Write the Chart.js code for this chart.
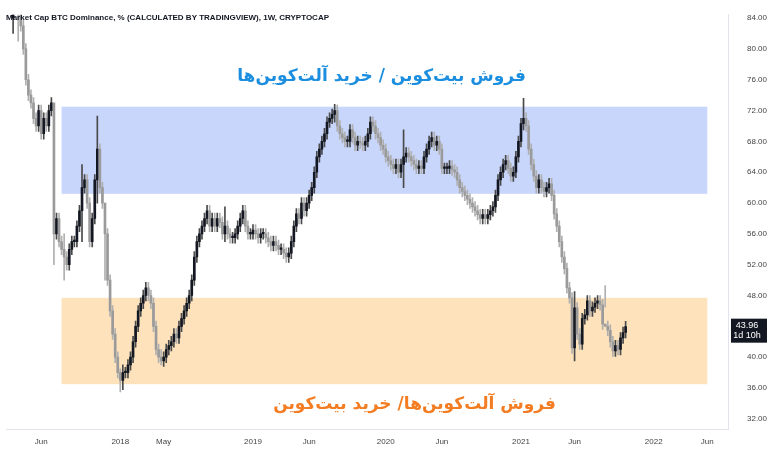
<!DOCTYPE html>
<html>
<head>
<meta charset="utf-8">
<script src="https://cdn.jsdelivr.net/npm/chart.js@4.4.0/dist/chart.umd.min.js"></script>
<style>
  html, body { margin: 0; padding: 0; background: #fff; }
  #wrap { width: 781px; height: 457px; }
</style>
</head>
<body>
<div id="wrap"><canvas id="c"></canvas></div>
<script>
// weekly closes
const closes = [
  86, 87, 85, 83, 80, 76, 74, 73, 71, 70, 72, 69, 71, 70, 72, 73,
  56, 58, 55, 54, 53, 52, 54, 55, 55, 57, 59, 62, 63, 60, 55, 58, 63, 67, 62, 60, 56,
  50, 46, 43, 40, 38, 37, 38, 38,
  39, 40, 42, 44, 46, 47, 48, 49, 48, 47,
  44, 41, 40, 39.5, 40, 41,
  41.5, 42, 43, 42.5, 44, 45, 46, 47, 48, 50,
  53, 55, 56, 57, 58, 59,
  57, 58, 57, 58, 57.5, 56, 57, 56, 55.5, 55.5, 56, 57, 58, 59, 57, 56,
  56, 56.5, 56, 55.5, 56, 56, 55.5, 55, 54.5, 55, 54.5, 54, 54, 53.5, 53, 53.5,
  55, 57, 58.6, 58, 60, 59,
  60, 61, 62, 64, 66, 67, 68, 69, 70.5, 71, 71.5, 72,
  70, 69, 68.5, 68, 68, 69.5, 68.5, 67.5, 68, 67.8, 67.5, 68,
  69, 70.5, 70, 69, 68.5, 67.5, 67, 66,
  65.5, 65, 64.5, 65, 64, 65, 66, 66.5,
  66, 65.5, 65, 64.5, 64.8, 64.5, 66, 67, 68, 68.5, 67.5, 68, 67, 64.5,
  64.5, 64.5, 64.8, 64.3, 64, 63, 62, 61.5, 61, 60.5, 60, 59.5, 59, 58.5, 58, 58.5, 58, 58.5, 59, 59.5,
  61, 63, 64, 65, 65.5, 64.5, 63.5, 64, 66, 68, 70.3,
  71, 70, 67, 65, 63.5, 62, 63, 62, 61.5, 62, 62.5, 61,
  58.6, 57, 55, 53, 51.5, 49, 47.7,
  41.2, 46.4, 43, 41.7, 45, 45.5, 47.3, 46, 46.5, 47, 47.3, 46.8, 44.3, 44, 43.5, 42, 40.8, 41.5, 41, 42.5, 43.2, 43.96
]
const firstOpen = 84
// notable wicks: candle index -> [high, low]
const bigWicks = {
  0: [90, 82], 2: [90, 81], 16: [66, 52], 20: [56, 50], 27: [65, 55], 33: [71.3, 60],
  36: [60, 50], 42: [38.5, 35.5], 43: [39, 35.8], 58: [41, 39], 83: [59.5, 55],
  126: [72.8, 70.5], 153: [69.5, 62], 200: [73.6, 69.5], 220: [48.5, 39.5], 232: [49.3, 46.5]
}
const startDate = new Date(2017, 1, 27)
const firstCandleWeek = 2
const totalWeeks = 283
const tickMarks = [
  ['2017-06-01', 'Jun'], ['2018-01-01', '2018'], ['2018-05-01', 'May'], ['2019-01-01', '2019'],
  ['2019-06-01', 'Jun'], ['2020-01-01', '2020'], ['2020-06-01', 'Jun'], ['2021-01-01', '2021'],
  ['2021-06-01', 'Jun'], ['2022-01-01', '2022'], ['2022-06-01', 'Jun']
]
const yTicks = [32, 36, 40, 44, 48, 52, 56, 60, 64, 68, 72, 76, 80, 84]
const sellBtcZone = [61.2, 72.5]
const sellAltZone = [36.5, 47.7]
const zoneWeeks = [21, 274]

const labels = []
for (let i = 0; i < totalWeeks; i++) labels.push('')
tickMarks.forEach(t => {
  const d = new Date(t[0] + 'T00:00:00')
  const idx = Math.round((d - startDate) / (7 * 864e5))
  if (idx >= 0 && idx < totalWeeks) labels[idx] = t[1]
})

const bodies = []
const wicks = []
const bodyColors = []
const wickColors = []
for (let i = 0; i < firstCandleWeek; i++) {
  bodies.push(null); wicks.push(null); bodyColors.push('#000'); wickColors.push('#000')
}
let prev = firstOpen
for (let i = 0; i < closes.length; i++) {
  const o = prev
  const c = closes[i]
  let hi = Math.max(o, c) + 0.7
  let lo = Math.min(o, c) - 0.7
  if (bigWicks[i]) { hi = bigWicks[i][0]; lo = bigWicks[i][1] }
  const lowB = Math.min(o, c)
  const highB = Math.max(o, c, lowB + 0.2)
  bodies.push([lowB, highB])
  wicks.push([lo, hi])
  const up = c >= o
  bodyColors.push(up ? '#131722' : '#9a9a9a')
  wickColors.push(up ? '#4a4a4a' : '#b0b0b0')
  prev = c
}

const overlay = {
  id: 'overlay',
  beforeDatasetsDraw (chart) {
    const { ctx, scales: { x, y } } = chart
    const x1 = x.getPixelForValue(zoneWeeks[0])
    const x2 = x.getPixelForValue(zoneWeeks[1])
    ctx.save()
    ctx.fillStyle = 'rgba(170,192,250,0.65)'
    ctx.fillRect(x1, y.getPixelForValue(sellBtcZone[1]), x2 - x1, y.getPixelForValue(sellBtcZone[0]) - y.getPixelForValue(sellBtcZone[1]))
    ctx.fillStyle = 'rgba(252,214,160,0.7)'
    ctx.fillRect(x1, y.getPixelForValue(sellAltZone[1]), x2 - x1, y.getPixelForValue(sellAltZone[0]) - y.getPixelForValue(sellAltZone[1]))
    ctx.restore()
  },
  afterDraw (chart) {
    const { ctx, scales: { y }, chartArea } = chart
    ctx.save()
    ctx.fillStyle = '#131722'
    ctx.font = 'bold 8px "Liberation Sans", sans-serif'
    ctx.textBaseline = 'middle'
    ctx.fillText('Market Cap BTC Dominance, % (CALCULATED BY TRADINGVIEW), 1W, CRYPTOCAP', 6, 18)

    ctx.direction = 'rtl'
    ctx.textAlign = 'right'
    ctx.font = 'bold 17px "DejaVu Sans", sans-serif'
    ctx.fillStyle = '#1b8ee0'
    ctx.fillText('فروش بیت‌کوین / خرید آلت‌کوین‌ها', 526, 77)
    ctx.fillStyle = '#f47c22'
    ctx.fillText('فروش آلت‌کوین‌ها/ خرید بیت‌کوین', 556, 405)

    const last = closes[closes.length - 1]
    const py = y.getPixelForValue(last)
    ctx.direction = 'ltr'
    ctx.textAlign = 'center'
    ctx.fillStyle = '#131722'
    ctx.fillRect(chartArea.right + 2, py - 8, 36, 24)
    ctx.fillStyle = '#fff'
    ctx.font = '9px "Liberation Sans", sans-serif'
    ctx.fillText(last.toFixed(2), chartArea.right + 18, py - 1)
    ctx.fillText('1d 10h', chartArea.right + 18, py + 9)
    ctx.restore()
  }
}

new Chart(document.getElementById('c'), {
  type: 'bar',
  data: {
    labels: labels,
    datasets: [
      { data: wicks, backgroundColor: wickColors, barThickness: 1, grouped: false, order: 2 },
      { data: bodies, backgroundColor: bodyColors, barThickness: 2, grouped: false, order: 1 }
    ]
  },
  options: {
    responsive: true,
    maintainAspectRatio: false,
    animation: false,
    layout: { padding: { left: 0, right: 4, top: 0, bottom: 2 } },
    plugins: { legend: { display: false }, tooltip: { enabled: false } },
    scales: {
      x: {
        grid: { display: false, drawTicks: false },
        border: { color: '#e0e3eb' },
        ticks: {
          autoSkip: false, maxRotation: 0, color: '#444', font: { size: 8 }, padding: 8,
          callback: (v, i) => labels[i]
        }
      },
      y: {
        position: 'right',
        min: 30.63,
        max: 84.43,
        afterBuildTicks: axis => { axis.ticks = yTicks.map(v => ({ value: v })) },
        grid: { display: false },
        border: { color: '#e0e3eb' },
        ticks: { color: '#444', font: { size: 8 }, padding: 10, callback: v => v.toFixed(2) }
      }
    }
  },
  plugins: [overlay]
})
</script>
</body>
</html>
